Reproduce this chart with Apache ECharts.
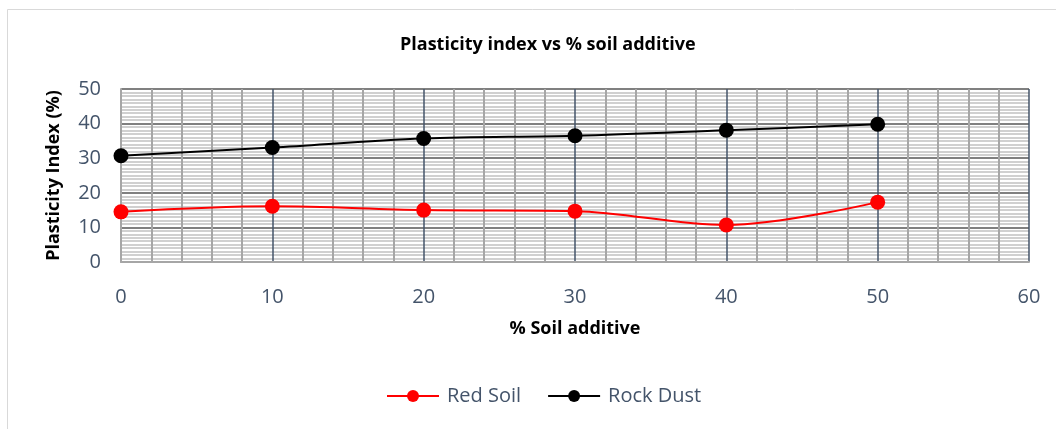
<!DOCTYPE html>
<html>
<head>
<meta charset="utf-8">
<script src="https://cdn.jsdelivr.net/npm/echarts@6/dist/echarts.min.js"></script>
<style>html,body{margin:0;padding:0;background:#fff}#c{width:1056px;height:429px}</style>
</head>
<body>
<div id="c"></div>
<script>
const additive = [0, 10, 20, 30, 40, 50];
const redSoil = [14.5, 16.1, 15.0, 14.7, 10.7, 17.3];
const rockDust = [30.7, 33.1, 35.7, 36.5, 38.1, 39.8];
const chartTitle = 'Plasticity index vs % soil additive';
const xName = '% Soil additive';
const yName = 'Plasticity Index (%)';
const seriesNames = ['Red Soil', 'Rock Dust'];

const font = '"Open Sans", "Liberation Sans", sans-serif';
const chart = echarts.init(document.getElementById('c'));
chart.setOption({
  animation: false,
  backgroundColor: '#fff',
  graphic: [{
    type: 'rect', shape: {x: 7.5, y: 9.5, width: 1100, height: 500},
    style: {fill: 'none', stroke: '#d9d9d9', lineWidth: 1}, silent: true, z: -10
  }],
  title: {
    text: chartTitle, left: 395, top: 31,
    textStyle: {fontFamily: font, fontSize: 18, fontWeight: 'bold', color: '#000'}
  },
  legend: {
    bottom: 18, left: 381, itemGap: 26, itemWidth: 52, itemHeight: 15,
    textStyle: {fontFamily: font, fontSize: 20, color: '#44546a', padding: [0, 0, 0, 3]},
    data: seriesNames
  },
  grid: {left: 121, right: 27, top: 89, bottom: 167},
  xAxis: {
    type: 'value', min: 0, max: 60, interval: 10,
    name: xName, nameLocation: 'middle', nameGap: 58,
    nameTextStyle: {fontFamily: font, fontSize: 18, fontWeight: 'bold', color: '#000'},
    axisLine: {show: true, lineStyle: {color: '#a6a6a6', width: 2}},
    axisTick: {show: false},
    axisLabel: {fontFamily: font, fontSize: 20, color: '#44546a', margin: 25},
    splitLine: {show: true, lineStyle: {color: '#44546a', width: 1.5}},
    minorTick: {show: false, splitNumber: 5},
    minorSplitLine: {show: true, lineStyle: {color: '#a6a6a6', width: 2}}
  },
  yAxis: {
    type: 'value', min: 0, max: 50, interval: 10,
    name: yName, nameLocation: 'middle', nameGap: 58,
    nameTextStyle: {fontFamily: font, fontSize: 18, fontWeight: 'bold', color: '#000'},
    axisLine: {show: true, lineStyle: {color: '#a6a6a6', width: 2}},
    axisTick: {show: false},
    axisLabel: {fontFamily: font, fontSize: 20, color: '#44546a', margin: 20},
    splitLine: {show: true, lineStyle: {color: '#808080', width: 2}},
    minorTick: {show: false, splitNumber: 10},
    minorSplitLine: {show: true, lineStyle: {color: '#d0d0d0', width: 2}}
  },
  series: [
    {
      name: seriesNames[0], type: 'line', smooth: 0.35,
      data: additive.map((x, i) => [x, redSoil[i]]),
      symbol: 'circle', symbolSize: 15,
      itemStyle: {color: '#ff0000'}, lineStyle: {color: '#ff0000', width: 2}, z: 3
    },
    {
      name: seriesNames[1], type: 'line', smooth: 0.35,
      data: additive.map((x, i) => [x, rockDust[i]]),
      symbol: 'circle', symbolSize: 15,
      itemStyle: {color: '#000000'}, lineStyle: {color: '#000000', width: 2}, z: 3
    }
  ]
});
</script>
</body>
</html>
